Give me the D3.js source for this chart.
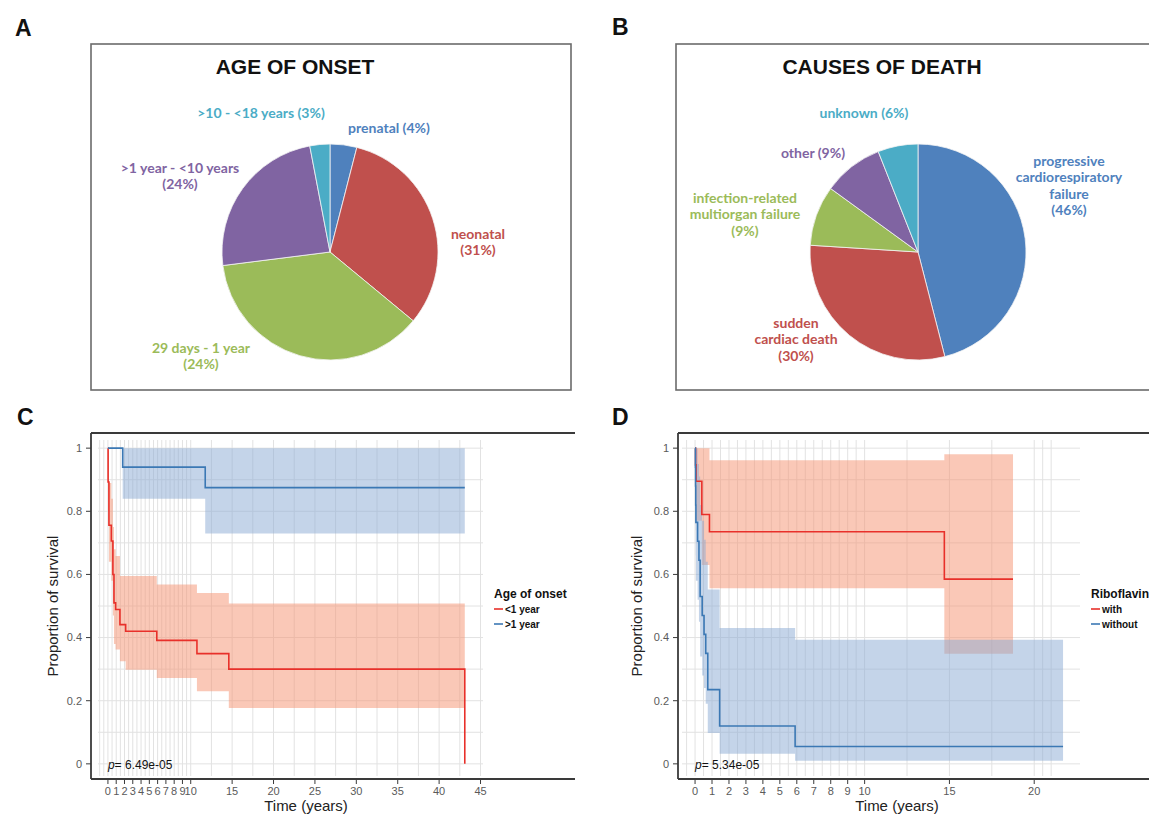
<!DOCTYPE html>
<html>
<head>
<meta charset="utf-8">
<script src="https://cdn.jsdelivr.net/npm/d3@7"></script>
<style>
  body { margin: 0; background: #fff; }
  svg { display: block; font-family: "Liberation Sans", Arial, sans-serif; }
  .pie-label { font-family: Lato, "Open Sans", sans-serif; font-weight: 700; font-size: 14px; }
  .panel-letter { font-weight: 700; font-size: 23px; fill: #111; }
  .pie-title { font-weight: 700; font-size: 21px; fill: #111; }
  .grid line { stroke: #e2e2e2; stroke-width: 1; }
  .tick-label { fill: #5a5a5a; font-size: 11px; }
  .axis-title { fill: #222; font-size: 15px; }
  .legend-title { font-weight: 700; font-size: 12px; fill: #111; }
  .legend-item { font-weight: 700; font-size: 10px; fill: #111; }
</style>
</head>
<body>
<svg id="chart" width="1149" height="815"></svg>
<script>
const onsetCategories = ["prenatal", "neonatal", "29 days - 1 year", ">1 year - <10 years", ">10 - <18 years"];
const onsetShares = [4, 32, 37, 24, 3];
const onsetLabelLines = [
  ["prenatal (4%)"],
  ["neonatal", "(31%)"],
  ["29 days - 1 year", "(24%)"],
  [">1 year - <10 years", "(24%)"],
  [">10 - <18 years (3%)"]
];

// pie B: causes of death
const deathCategories = ["progressive cardiorespiratory failure", "sudden cardiac death", "infection-related multiorgan failure", "other", "unknown"];
const deathShares = [46, 30, 9, 9, 6];
const deathLabelLines = [
  ["progressive", "cardiorespiratory", "failure", "(46%)"],
  ["sudden", "cardiac death", "(30%)"],
  ["infection-related", "multiorgan failure", "(9%)"],
  ["other (9%)"],
  ["unknown (6%)"]
];

const sliceColors = ["#4f81bd", "#c0504d", "#9bbb59", "#8064a2", "#4bacc6"];

// C: survival by age of onset
const lt1Time  = [0, 0.02, 0.12, 0.41, 0.6, 0.73, 0.93, 1.45, 2.14, 5.9, 10.75, 14.6, 43.1];
const lt1Surv  = [1, 0.893, 0.756, 0.706, 0.60, 0.51, 0.489, 0.441, 0.42, 0.391, 0.349, 0.30, 0];
const lt1Lower = [1, 0.80, 0.64, 0.58, 0.47, 0.38, 0.362, 0.325, 0.298, 0.272, 0.23, 0.177, 0.177];
const lt1Upper = [1, 0.99, 0.89, 0.84, 0.75, 0.68, 0.658, 0.595, 0.595, 0.568, 0.541, 0.508, 0.508];

const gt1Time  = [0, 1.78, 11.75, 43.1];
const gt1Surv  = [1, 0.94, 0.875, 0.875];
const gt1Lower = [1, 0.84, 0.73, 0.73];
const gt1Upper = [1, 1, 1, 1];

// D: survival by riboflavin treatment
const withTime  = [0, 0.03, 0.06, 0.4, 0.85, 14.7, 18.75];
const withSurv  = [1, 0.947, 0.895, 0.79, 0.735, 0.585, 0.585];
const withLower = [1, 0.85, 0.77, 0.63, 0.556, 0.349, 0.349];
const withUpper = [1, 1, 1, 1, 0.962, 0.981, 0.981];

const withoutTime  = [0, 0.02, 0.03, 0.04, 0.05, 0.15, 0.23, 0.3, 0.42, 0.53, 0.63, 0.75, 1.45, 5.9, 21.7];
const withoutSurv  = [1, 0.94, 0.88, 0.82, 0.765, 0.705, 0.645, 0.53, 0.47, 0.41, 0.35, 0.235, 0.12, 0.055, 0.055];
const withoutLower = [1, 0.83, 0.74, 0.66, 0.58, 0.52, 0.45, 0.34, 0.28, 0.24, 0.19, 0.098, 0.032, 0.01, 0.01];
const withoutUpper = [1, 1, 1, 1, 1, 0.95, 0.91, 0.82, 0.77, 0.71, 0.64, 0.552, 0.43, 0.393, 0.393];

const yTicks = [0, 0.2, 0.4, 0.6, 0.8, 1];
const onsetXTicks = [0, 1, 2, 3, 4, 5, 6, 7, 8, 9, 10, 15, 20, 25, 30, 35, 40, 45];
const riboXTicks = [0, 1, 2, 3, 4, 5, 6, 7, 8, 9, 10, 15, 20];

const svg = d3.select("#chart");

const letters = [["A", 15, 36], ["B", 612, 35], ["C", 17, 425], ["D", 612, 425]];
svg.selectAll("text.panel-letter")
  .data(letters)
  .join("text")
  .attr("class", "panel-letter")
  .attr("x", (d) => d[1])
  .attr("y", (d) => d[2])
  .text((d) => d[0]);

function drawPie(opts) {
  const g = svg.append("g");
  g.append("rect")
    .attr("x", opts.box[0]).attr("y", opts.box[1])
    .attr("width", opts.box[2]).attr("height", opts.box[3])
    .attr("fill", "none").attr("stroke", "#6b6b6b").attr("stroke-width", 1.6);

  g.append("text")
    .attr("class", "pie-title")
    .attr("x", opts.titleX).attr("y", 74)
    .attr("text-anchor", "middle")
    .text(opts.title);

  const arcs = d3.pie().sort(null)(opts.shares);
  const arc = d3.arc().innerRadius(0).outerRadius(opts.r);

  g.append("g")
    .attr("transform", `translate(${opts.cx},${opts.cy})`)
    .selectAll("path")
    .data(arcs)
    .join("path")
    .attr("d", arc)
    .attr("fill", (d, i) => sliceColors[i])
    .attr("stroke", "#f4f4f4")
    .attr("stroke-width", 0.8);

  opts.labelLines.forEach((lines, i) => {
    const [lx, ly] = opts.labelPos[i];
    const t = g.append("text")
      .attr("class", "pie-label")
      .attr("text-anchor", "middle")
      .attr("fill", sliceColors[i]);
    lines.forEach((line, j) => {
      t.append("tspan")
        .attr("x", lx)
        .attr("y", ly + j * opts.lineGap)
        .attr("dy", "0.35em")
        .text(line);
    });
  });
}

drawPie({
  box: [91, 44, 480, 346],
  title: "AGE OF ONSET",
  titleX: 295,
  cx: 330, cy: 252, r: 108,
  shares: onsetShares,
  labelLines: onsetLabelLines,
  labelPos: [[389, 128], [478, 234], [201, 348], [180, 168], [261, 113]],
  lineGap: 16
});

drawPie({
  box: [676, 44, 490, 346],
  title: "CAUSES OF DEATH",
  titleX: 882,
  cx: 918, cy: 252, r: 108,
  shares: deathShares,
  labelLines: deathLabelLines,
  labelPos: [[1069, 161], [796, 323], [745, 198], [813, 153], [864, 113]],
  lineGap: 16.5
});

function kmRows(time, surv, lower, upper) {
  return time.map((t, i) => ({ t, s: surv[i], lo: lower[i], hi: upper[i] }));
}

function drawKM(opts) {
  const g = svg.append("g");
  const x = d3.scaleLinear().domain(opts.xDomain).range([opts.px0, opts.px1]);
  const y = d3.scaleLinear().domain([-0.048, 1.048]).range([779, 433]);

  const grid = g.append("g").attr("class", "grid");
  grid.selectAll("line.h")
    .data(d3.range(0, 1.001, 0.1))
    .join("line")
    .attr("x1", opts.px0).attr("x2", opts.px1)
    .attr("y1", (d) => y(d)).attr("y2", (d) => y(d));
  grid.selectAll("line.v")
    .data(opts.gridX)
    .join("line")
    .attr("x1", (d) => x(d)).attr("x2", (d) => x(d))
    .attr("y1", 440).attr("y2", 776);

  const area = d3.area()
    .curve(d3.curveStepAfter)
    .x((d) => x(d.t))
    .y0((d) => y(d.lo))
    .y1((d) => y(d.hi));
  const line = d3.line()
    .curve(d3.curveStepAfter)
    .x((d) => x(d.t))
    .y((d) => y(d.s));

  opts.groups.forEach((grp) => {
    g.append("path")
      .attr("d", area(grp.rows))
      .attr("fill", grp.fill)
      .attr("fill-opacity", 0.5);
  });
  opts.groups.forEach((grp) => {
    g.append("path")
      .attr("d", line(grp.rows))
      .attr("fill", "none")
      .attr("stroke", grp.stroke)
      .attr("stroke-width", 1.6);
  });

  // frame: left axis, top and bottom lines
  const frame = g.append("g").attr("stroke", "#3a3a3a").attr("stroke-width", 1.8);
  frame.append("line").attr("x1", opts.boxLeft).attr("x2", opts.boxLeft).attr("y1", 433).attr("y2", 779);
  frame.append("line").attr("x1", opts.boxLeft).attr("x2", opts.boxRight).attr("y1", 433).attr("y2", 433);
  frame.append("line").attr("x1", opts.boxLeft).attr("x2", opts.boxRight).attr("y1", 779).attr("y2", 779);

  // y ticks
  g.selectAll("line.ytick")
    .data(yTicks)
    .join("line")
    .attr("stroke", "#3a3a3a")
    .attr("x1", opts.boxLeft - 5).attr("x2", opts.boxLeft)
    .attr("y1", (d) => y(d)).attr("y2", (d) => y(d));
  g.selectAll("text.ylab")
    .data(yTicks)
    .join("text")
    .attr("class", "tick-label")
    .attr("text-anchor", "end")
    .attr("x", opts.boxLeft - 9)
    .attr("y", (d) => y(d))
    .attr("dy", "0.35em")
    .text((d) => d3.format("~g")(d));

  // x ticks
  g.selectAll("line.xtick")
    .data(opts.xTicks)
    .join("line")
    .attr("stroke", "#3a3a3a")
    .attr("x1", (d) => x(d)).attr("x2", (d) => x(d))
    .attr("y1", 779).attr("y2", 784);
  g.selectAll("text.xlab")
    .data(opts.xTicks)
    .join("text")
    .attr("class", "tick-label")
    .attr("text-anchor", "middle")
    .attr("x", (d) => x(d))
    .attr("y", 794.5)
    .text((d) => d);

  g.append("text")
    .attr("class", "axis-title")
    .attr("text-anchor", "middle")
    .attr("x", opts.xTitleX).attr("y", 811)
    .text("Time (years)");
  g.append("text")
    .attr("class", "axis-title")
    .attr("text-anchor", "middle")
    .attr("transform", `translate(${opts.yTitleX},606) rotate(-90)`)
    .attr("dy", "0.35em")
    .text("Proportion of survival");

  const p = g.append("text")
    .attr("x", x(0)).attr("y", 769)
    .attr("font-size", 12)
    .attr("fill", "#111");
  p.append("tspan").attr("font-style", "italic").text("p");
  p.append("tspan").text("= " + opts.pValue);

  // legend
  const lg = g.append("g");
  lg.append("text")
    .attr("class", "legend-title")
    .attr("x", opts.legendX).attr("y", 598)
    .text(opts.legendTitle);
  opts.groups.forEach((grp, i) => {
    const ly = 609 + i * 15;
    lg.append("line")
      .attr("x1", opts.legendX).attr("x2", opts.legendX + 9)
      .attr("y1", ly).attr("y2", ly)
      .attr("stroke", grp.stroke).attr("stroke-width", 1.6);
    lg.append("text")
      .attr("class", "legend-item")
      .attr("x", opts.legendX + 11).attr("y", ly)
      .attr("dy", "0.35em")
      .text(grp.name);
  });
}

const redLine = "#e8302a";
const blueLine = "#3b78b4";
const redFill = "#f6916f";
const blueFill = "#8aa9d3";

drawKM({
  xDomain: [-1.2, 45.3], px0: 98, px1: 483,
  boxLeft: 91, boxRight: 575,
  gridX: d3.range(-1, 10.01, 0.5).concat(d3.range(12.5, 45.01, 2.5)),
  xTicks: onsetXTicks,
  xTitleX: 306, yTitleX: 53,
  pValue: "6.49e-05",
  legendTitle: "Age of onset", legendX: 494,
  groups: [
    { name: "<1 year", rows: kmRows(lt1Time, lt1Surv, lt1Lower, lt1Upper), stroke: redLine, fill: redFill },
    { name: ">1 year", rows: kmRows(gt1Time, gt1Surv, gt1Lower, gt1Upper), stroke: blueLine, fill: blueFill }
  ]
});

drawKM({
  xDomain: [-0.77, 22.7], px0: 682, px1: 1080,
  boxLeft: 678, boxRight: 1149,
  gridX: d3.range(-0.5, 10.01, 0.5).concat([12.5, 15, 17.5, 20, 20.5, 21]),
  xTicks: riboXTicks,
  xTitleX: 897, yTitleX: 637,
  pValue: "5.34e-05",
  legendTitle: "Riboflavin", legendX: 1091,
  groups: [
    { name: "with", rows: kmRows(withTime, withSurv, withLower, withUpper), stroke: redLine, fill: redFill },
    { name: "without", rows: kmRows(withoutTime, withoutSurv, withoutLower, withoutUpper), stroke: blueLine, fill: blueFill }
  ]
});
</script>
</body>
</html>
